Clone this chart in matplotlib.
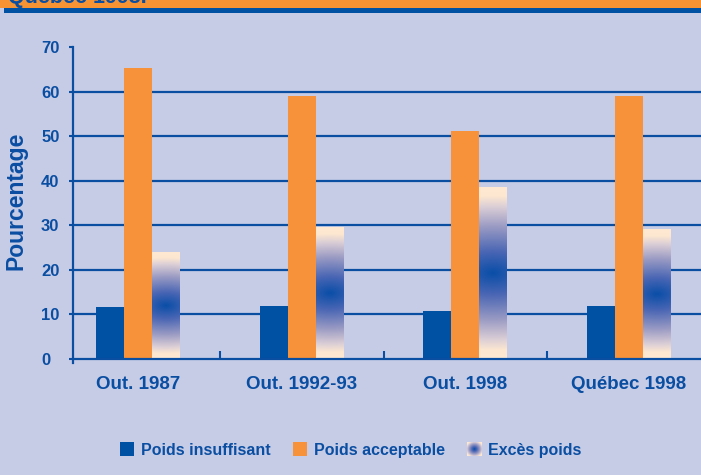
import numpy as np
import matplotlib
matplotlib.use("Agg")
import matplotlib.pyplot as plt
from matplotlib.colors import LinearSegmentedColormap
from matplotlib.patches import Rectangle, Patch
from matplotlib.legend_handler import HandlerBase
from matplotlib.image import BboxImage
from matplotlib.transforms import Bbox, TransformedBbox

# ---------------- data ----------------
categories = ['Out. 1987', 'Out. 1992-93', 'Out. 1998', 'Québec 1998']
poids_insuffisant = [11.7, 12.0, 10.8, 12.0]
poids_acceptable = [65.3, 59.1, 51.2, 59.1]
exces_poids = [23.9, 29.4, 38.5, 29.0]
series_labels = ['Poids insuffisant', 'Poids acceptable', 'Excès poids']
yticks = [0, 10, 20, 30, 40, 50, 60, 70]
title_text = 'Québec 1998.'
ylabel_text = 'Pourcentage'

# ---------------- style ----------------
BG = '#c7cce6'
BLUE = '#0050a4'
ORANGE = '#f8923a'
TXT = '#0a4ea2'
GRID = '#0a4ea2'
FONT = 'Liberation Sans'

cmap = LinearSegmentedColormap.from_list('exces', [
    (0.0, '#0a4ea8'), (0.25, '#4a66b4'), (0.55, '#9c9cc4'),
    (0.78, '#dccfd6'), (0.9, '#fde7d0'), (1.0, '#ffe9d2')])

W, H = 701, 475
fig = plt.figure(figsize=(W / 100, H / 100), dpi=100)
fig.patch.set_facecolor(BG)

# header band
fig.add_artist(Rectangle((0, 1 - 8 / H), 1, 8 / H, transform=fig.transFigure,
                         color='#f79332', zorder=0, lw=0))
fig.add_artist(Rectangle((3.6 / W, 1 - 13 / H), 1, 5 / H, transform=fig.transFigure,
                         color=BLUE, zorder=0, lw=0))
fig.text(8 / W, 1 - 3 / H, title_text, fontsize=15.5, fontweight='bold',
         color=TXT, family=FONT, va='baseline', ha='left')

y0_px, y70_px = 359, 47
ax = fig.add_axes([73 / W, 1 - y0_px / H, 628 / W, (y0_px - y70_px) / H])
ax.set_facecolor('none')

x = np.arange(len(categories))
unit_px = 163.67
bw = 28 / unit_px
xlim = (-(138 - 73) / unit_px, 3 + (701 - 629) / unit_px)

for g in yticks[1:-1]:
    ax.axhline(g, color=GRID, lw=1.6, zorder=1)

ax.bar(x - bw, poids_insuffisant, bw, color=BLUE, lw=0, zorder=3)
ax.bar(x, poids_acceptable, bw, color=ORANGE, lw=0, zorder=3)

py_per_unit = (y0_px - y70_px) / 70
for xi, v in zip(x + bw, exces_poids):
    hp = v * py_per_unit
    ny, nx = max(int(hp * 2), 4), 56
    yy = np.linspace(-hp / 2, hp / 2, ny)[:, None]
    xx = np.linspace(-14, 14, nx)[None, :]
    r = np.sqrt((0.55 * xx) ** 2 + yy ** 2) / (hp / 2)
    img = cmap(np.clip(r, 0, 1))
    ax.imshow(img, extent=[xi - bw / 2, xi + bw / 2, 0, v], aspect='auto',
              interpolation='bilinear', zorder=3)

ax.set_xlim(*xlim)
ax.set_ylim(0, 70)

for s in ['top', 'right']:
    ax.spines[s].set_visible(False)
for s in ['left', 'bottom']:
    ax.spines[s].set_color(GRID)
    ax.spines[s].set_linewidth(1.6)
    ax.spines[s].set_zorder(4)
ax.spines['left'].set_bounds(-0.8, 70)

ax.set_yticks(yticks)
ax.set_yticklabels([str(t) for t in yticks])
ax.tick_params(axis='y', direction='out', length=3, width=1.5, color=GRID,
               pad=20, labelcolor=TXT, labelsize=12)
for lab in ax.get_yticklabels():
    lab.set_ha('left')
    lab.set_fontweight('bold')
    lab.set_family(FONT)

ax.set_xticks(x)
ax.set_xticklabels(categories)
ax.set_xticks(x[:-1] + 0.5, minor=True)
ax.tick_params(axis='x', which='major', length=0, pad=12, labelcolor=TXT, labelsize=13.5)
ax.tick_params(axis='x', which='minor', direction='in', length=6, width=1.5, color=GRID)
for lab in ax.get_xticklabels():
    lab.set_fontweight('bold')
    lab.set_family(FONT)

fig.text(16 / W, 1 - 201 / H, ylabel_text, rotation=90, fontsize=16.5,
         fontweight='bold', color=TXT, family=FONT, ha='center', va='center')


class GradProxy:
    pass


class GradHandler(HandlerBase):
    def create_artists(self, legend, orig_handle, xdescent, ydescent, width,
                       height, fontsize, trans):
        bb = Bbox.from_bounds(-xdescent, -ydescent, width, height)
        tbb = TransformedBbox(bb, trans)
        n = 40
        g = np.linspace(-1, 1, n)
        r = np.sqrt(g[None, :] ** 2 + g[:, None] ** 2)
        im = BboxImage(tbb, interpolation='bilinear')
        im.set_data(cmap(np.clip(r * 0.75, 0, 1)))
        return [im]


handles = [Patch(color=BLUE, lw=0), Patch(color=ORANGE, lw=0), GradProxy()]
leg = fig.legend(handles, series_labels, loc='center', bbox_to_anchor=(0.5, 1 - 450 / H),
                 ncol=3, frameon=False, handlelength=0.9, handleheight=0.9,
                 handletextpad=0.4, columnspacing=1.4,
                 prop={'family': FONT, 'weight': 'bold', 'size': 11.5},
                 handler_map={GradProxy: GradHandler()})
for t in leg.get_texts():
    t.set_color(TXT)

fig.savefig('out.png', dpi=100, facecolor=BG)
